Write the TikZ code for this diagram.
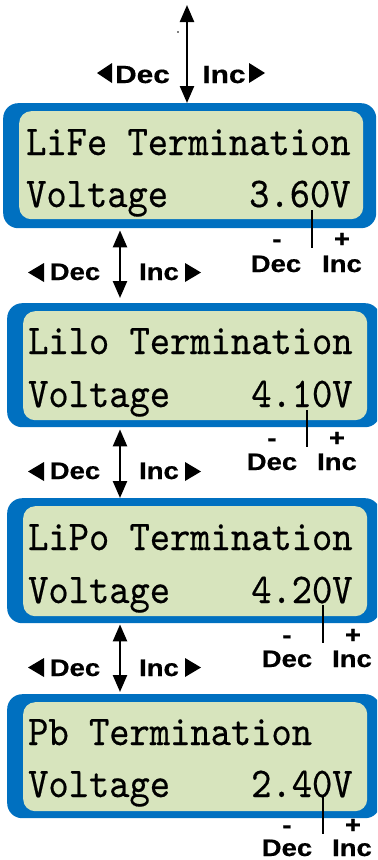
\documentclass[tikz,border=0pt]{standalone}
\usepackage{fontspec}
\newfontfamily\LabSans[FakeBold=0.5]{Liberation Sans}
\newfontfamily\LcdFont[FakeBold=0.4]{lmmono10-regular.otf}
\usetikzlibrary{arrows.meta}
\definecolor{lcdblue}{HTML}{0070C0}
\definecolor{lcdgreen}{HTML}{D7E4BD}
\newcommand{\LcdTxt}[1]{\scalebox{0.912}[1]{\fontsize{42.5}{42.5}\selectfont\LcdFont #1}}
\newcommand{\KeyLab}[2][1.15]{\scalebox{#1}[1]{\fontsize{24}{24}\selectfont\LabSans\bfseries #2}}
\tikzset{
  outerpanel/.style={fill=lcdblue, draw=none, rounded corners=15bp, inner sep=0pt, minimum width=373bp, anchor=north west},
  innerpanel/.style={fill=lcdgreen, draw=none, rounded corners=12bp, inner sep=0pt, minimum width=344bp, anchor=north west},
  lcdtext/.style={anchor=base west, inner sep=0pt, text=black},
  keylab/.style={anchor=base, inner sep=0pt, text=black},
  dbl/.style={line width=2.4bp, {Triangle[length=17bp,width=14bp]}-{Triangle[length=17bp,width=14bp]}},
  valline/.style={line width=1.8bp},
}
\begin{document}
\begin{tikzpicture}[x=1bp,y=-1bp]
\useasboundingbox (0,0) rectangle (377,860);
\clip (0,0) rectangle (377,860);

% panels
\node[outerpanel, minimum height=125bp] (p1) at (3,103) {};
\node[innerpanel, minimum height=108bp] (g1) at (19,111) {};
\node[outerpanel, minimum height=124bp] (p2) at (7,303) {};
\node[innerpanel, minimum height=109bp] (g2) at (23,311) {};
\node[outerpanel, minimum height=125bp] (p3) at (7,498) {};
\node[innerpanel, minimum height=110bp] (g3) at (23,506) {};
\node[outerpanel, minimum height=124bp] (p4) at (7,694) {};
\node[innerpanel, minimum height=109bp] (g4) at (23,702) {};

% LCD texts
\node[lcdtext] (t1a) at (26,155) {\LcdTxt{LiFe Termination}};
\node[lcdtext] (t1b) at (26,207) {\LcdTxt{Voltage\ \ \ \ 3.60V}};
\node[lcdtext] (t2a) at (28,354) {\LcdTxt{Lilo Termination}};
\node[lcdtext] (t2b) at (28,407) {\LcdTxt{Voltage\ \ \ \ 4.10V}};
\node[lcdtext] (t3a) at (28,550) {\LcdTxt{LiPo Termination}};
\node[lcdtext] (t3b) at (28,603) {\LcdTxt{Voltage\ \ \ \ 4.20V}};
\node[lcdtext] (t4a) at (28,745) {\LcdTxt{Pb Termination}};
\node[lcdtext] (t4b) at (28,797) {\LcdTxt{Voltage\ \ \ \ 2.40V}};

% top double arrow
\coordinate (top) at (187,5);
\draw[dbl] (top) -- (top |- p1.north);
\fill (178,32) circle (0.8);
\fill (112,63) -- (112,83) -- (97,73) -- cycle;
\node[keylab] (td) at (142.5,83) {\KeyLab[1.2]{\fontsize{25}{25}\selectfont Dec}};
\node[keylab] (ti) at (224,83) {\KeyLab[1.2]{\fontsize{25}{25}\selectfont Inc}};
\fill (249,63) -- (249,83) -- (265,73) -- cycle;

% arrows between panels
\coordinate (ax) at (120,0);
\draw[dbl, shorten <=2bp, shorten >=5bp] (p1.south -| ax) -- (p2.north -| ax);
\draw[dbl, shorten <=2bp] (p2.south -| ax) -- (p3.north -| ax);
\draw[dbl, shorten <=1bp, shorten >=2bp] (p3.south -| ax) -- (p4.north -| ax);

% labels between panels
\fill (44,263) -- (44,282) -- (28,272.5) -- cycle;
\node[keylab] (d12) at (75,280) {\KeyLab{Dec}};
\node[keylab] (i12) at (159,280) {\KeyLab{Inc}};
\fill (185,263) -- (185,282) -- (201,272.5) -- cycle;

\fill (44,462) -- (44,481) -- (28,471.5) -- cycle;
\node[keylab] (d23) at (75,479) {\KeyLab{Dec}};
\node[keylab] (i23) at (159,479) {\KeyLab{Inc}};
\fill (185,462) -- (185,481) -- (201,471.5) -- cycle;

\fill (44,658) -- (44,677) -- (28,667.5) -- cycle;
\node[keylab] (d34) at (75,676) {\KeyLab{Dec}};
\node[keylab] (i34) at (159,676) {\KeyLab{Inc}};
\fill (185,658) -- (185,677) -- (201,667.5) -- cycle;

% value adjust markers
\coordinate (v1a) at (312,210); \coordinate (v1b) at (312,248);
\draw[valline] (v1a) -- (v1b);
\node[keylab] (m1) at (277,247) {\KeyLab{-}};
\node[keylab] (q1) at (342,247) {\KeyLab{+}};
\node[keylab] (vd1) at (276,272) {\KeyLab{Dec}};
\node[keylab] (vi1) at (342,272) {\KeyLab{Inc}};

\coordinate (v2a) at (307,410); \coordinate (v2b) at (307,447);
\draw[valline] (v2a) -- (v2b);
\node[keylab] (m2) at (272,446) {\KeyLab{-}};
\node[keylab] (q2) at (337,446) {\KeyLab{+}};
\node[keylab] (vd2) at (272,470) {\KeyLab{Dec}};
\node[keylab] (vi2) at (337,470) {\KeyLab{Inc}};

\coordinate (v3a) at (323,605); \coordinate (v3b) at (323,643);
\draw[valline] (v3a) -- (v3b);
\node[keylab] (m3) at (287,643) {\KeyLab{-}};
\node[keylab] (q3) at (353,643) {\KeyLab{+}};
\node[keylab] (vd3) at (287,667) {\KeyLab{Dec}};
\node[keylab] (vi3) at (352,667) {\KeyLab{Inc}};

\coordinate (v4a) at (323,795); \coordinate (v4b) at (323,834);
\draw[valline] (v4a) -- (v4b);
\node[keylab] (m4) at (287,833) {\KeyLab{-}};
\node[keylab] (q4) at (353,833) {\KeyLab{+}};
\node[keylab] (vd4) at (287,856) {\KeyLab{Dec}};
\node[keylab] (vi4) at (352,856) {\KeyLab{Inc}};
\end{tikzpicture}
\end{document}
